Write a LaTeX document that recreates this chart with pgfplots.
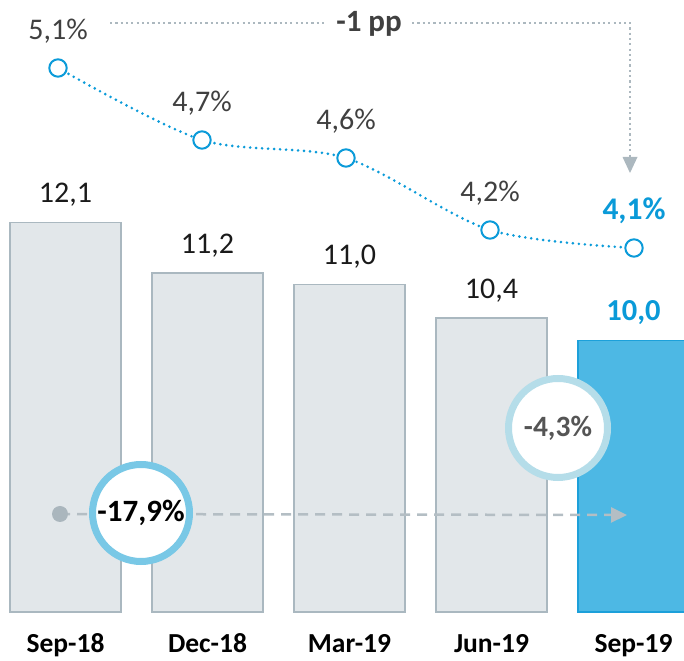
\documentclass[border=0pt]{standalone}
\usepackage{pgfplots}
\pgfplotsset{compat=1.18}
\usepackage{fontspec}
\setmainfont{Carlito}
\usetikzlibrary{arrows.meta}
\definecolor{barfill}{HTML}{E2E7EA}
\definecolor{barline}{HTML}{AAB8C0}
\definecolor{bluefill}{HTML}{4DB8E4}
\definecolor{blueline}{HTML}{1CA0DA}
\definecolor{linec}{HTML}{0B9BD9}
\definecolor{txt}{HTML}{404040}
\definecolor{valtxt}{HTML}{1A1A1A}
\definecolor{bluetxt}{HTML}{0A9AD8}
\definecolor{ringA}{HTML}{79C8E6}
\definecolor{ringB}{HTML}{B5DDE9}
\definecolor{dashc}{HTML}{B4BEC4}
\definecolor{dotc}{HTML}{AAB6BD}
\definecolor{connc}{HTML}{ACB8BF}
\definecolor{grtxt}{HTML}{555555}
\begin{document}
\begin{tikzpicture}
\begin{axis}[
  at={(0pt,0pt)}, anchor=south west, scale only axis,
  width=684pt, height=660pt,
  xmin=-0.4613, xmax=4.3556, ymin=4.327, ymax=16.052,
  y coord trafo/.code={\pgfmathparse{#1-5.18}},
  y coord inv trafo/.code={\pgfmathparse{#1+5.18}},
  ytick=\empty, xtick={0,1,2,3,4},
  xticklabels={Sep-18,Dec-18,Mar-19,Jun-19,Sep-19},
  axis line style={draw=none}, major tick length=0pt,
  xticklabel style={font=\bfseries\fontsize{27.5}{33}\selectfont, text=black, anchor=base, yshift=8pt},
  ybar, bar width=111pt, bar shift=0pt, clip=false,
  nodes near coords, point meta=explicit symbolic,
  every node near coord/.append style={anchor=base, yshift=20pt, font=\fontsize{30}{36}\selectfont},
]
\addplot[fill=barfill, draw=barline, line width=1.5pt, every node near coord/.append style={text=valtxt}]
  coordinates {(0,12.1) [12,1] (1,11.2) [11,2] (2,11.0) [11,0] (3,10.4) [10,4]};
\addplot[fill=bluefill, draw=blueline, line width=1.5pt, every node near coord/.append style={text=bluetxt, font=\bfseries\fontsize{30.5}{36}\selectfont}]
  coordinates {(4,10.0) [10,0]};
\end{axis}
\begin{scope}[x=1pt,y=1pt]
  % dashed arrow
  \draw[dashc, line width=2.5pt, dash pattern=on 10pt off 7pt, -{Triangle[length=16pt,width=15pt]}] (60,146) -- (627,145);
  \fill[dotc] (60,146) circle (8);
  % circles
  \draw[ringA, line width=7pt, fill=white] (141,147) circle (48.5);
  \node[font=\bfseries\fontsize{31}{37}\selectfont, text=black] at (141,147) {-17,9\%};
  \draw[ringB, line width=7pt, fill=white] (558,232) circle (49.5);
  \node[font=\bfseries\fontsize{29.5}{35}\selectfont, text=grtxt] at (558,232) {-4,3\%};
  % connector
  \draw[connc, line width=2.2pt, dash pattern=on 2.2pt off 3.1pt] (110,637.3) -- (630,637.3) -- (630,503);
  \fill[connc] (622.5,503) -- (637.5,503) -- (630,487) -- cycle;
  \node[fill=white, inner xsep=10pt, font=\bfseries\fontsize{31}{37}\selectfont, text=txt] at (369,636) {-1 pp};
\end{scope}
\begin{axis}[
  at={(0pt,0pt)}, anchor=south west, scale only axis,
  width=684pt, height=660pt,
  xmin=-0.4028, xmax=4.3472, ymin=1.8111, ymax=5.4778,
  hide axis, clip=false,
  nodes near coords, point meta=explicit symbolic,
  every node near coord/.append style={anchor=base, yshift=28.5pt, font=\fontsize{30}{36}\selectfont, text=txt},
]
\addplot[smooth, tension=0.5, linec, line width=2.9pt, line cap=round, dash pattern=on 0pt off 6pt,
  mark=*, mark size=8.7pt, mark options={solid, fill=white, draw=linec, line width=2pt}]
  coordinates {(0,5.1) [5,1\%] (1,4.7) [4,7\%] (2,4.6) [4,6\%] (3,4.2) [4,2\%] (4,4.1) [\textcolor{bluetxt}{\bfseries\fontsize{31.5}{37}\selectfont 4,1\%}]};
\end{axis}
\pgfresetboundingbox
\useasboundingbox (0,0) rectangle (684pt,660pt);
\end{tikzpicture}
\end{document}
